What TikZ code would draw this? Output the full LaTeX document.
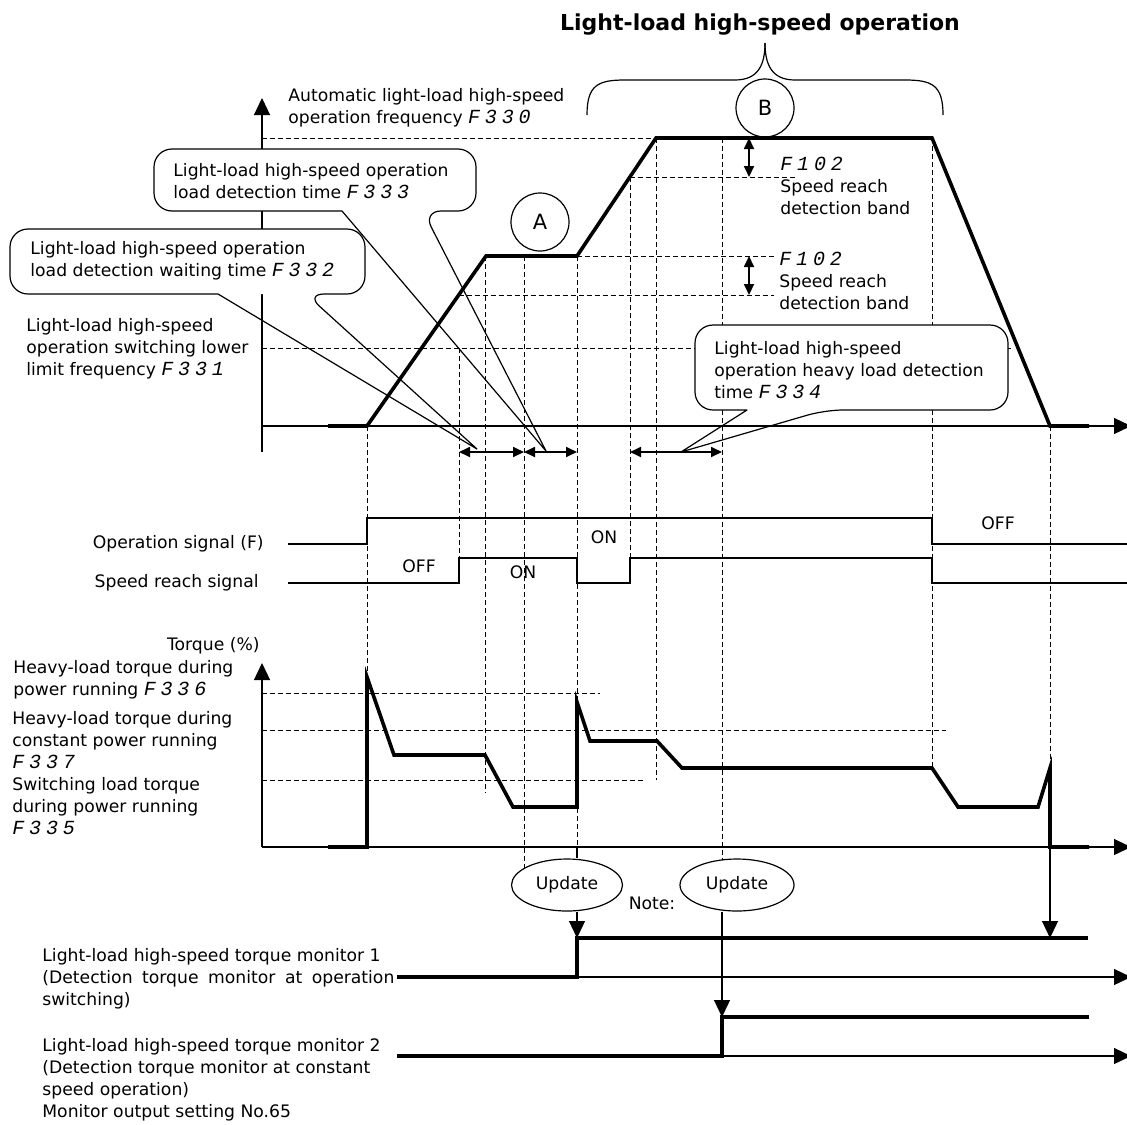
\documentclass[tikz,border=0pt]{standalone}
\usepackage{fontspec}
\setmainfont{DejaVu Sans}
\newfontfamily\lcdfont{Liberation Mono}[WordSpace=0.4]
\usepackage{tikz}
\usetikzlibrary{arrows.meta,shapes.geometric}

\newcommand{\lcd}[1]{{\lcdfont\itshape\fontsize{10}{11}\selectfont #1}}
% box x1 y1 x2 y2, tail base t1 t2, tail tip
\newcommand{\speechbox}[8]{%
    \fill[white, rounded corners=9pt] (#1,#2) rectangle (#3,#4);
    \draw[bubbleline] (#5,#4) [rounded corners=9pt] -- (#1,#4) -- (#1,#2) -- (#3,#2) -- (#3,#4) -- (#6,#4) [sharp corners] -- (#7,#8) -- cycle;}

\begin{document}
\begin{tikzpicture}[x=0.5pt, y=-0.5pt,
    every node/.style={inner sep=0pt, font=\fontsize{8.6}{11}\selectfont},
    guide/.style={line width=0.45pt, dash pattern=on 2.5pt off 1.5pt},
    axisline/.style={line width=0.6pt},
    axisarrow/.style={line width=0.6pt, -{Triangle[length=8.5pt, width=8pt]}},
    dimarrow/.style={line width=0.9pt, {Triangle[length=5.5pt, width=5pt]}-{Triangle[length=5.5pt, width=5pt]}},
    speedline/.style={line width=1.8pt},
    signal/.style={line width=1pt},
    monline/.style={line width=2.2pt},
    bubbleline/.style={line width=0.6pt, line join=round},
    tagcircle/.style={circle, draw, line width=0.6pt, minimum size=29pt, font=\fontsize{10.5}{12}\selectfont},
    updnode/.style={ellipse, draw, line width=0.6pt, minimum width=56pt, minimum height=26pt},
    textblock/.style={align=left, anchor=west}]
    \useasboundingbox (0,0) rectangle (1127,1124);
    % Guides, axes, bubbles, curves and labels:
    \draw[guide] (262,138) -- (656,138);
    \draw[guide] (630,177) -- (797,177);
    \draw[guide] (577,256) -- (774,256);
    \draw[guide] (459,295) -- (774,295);
    \draw[guide] (262,348) -- (1011,348);
    \draw[guide] (262,693) -- (600,693);
    \draw[guide] (262,730) -- (946,730);
    \draw[guide] (262,780) -- (644,780);
    \draw[guide] (367,426) -- (367,677);
    \draw[guide] (459,348) -- (459,558);
    \draw[guide] (485,256) -- (485,793);
    \draw[guide] (524,256) -- (524,868);
    \draw[guide] (577,256) -- (577,847);
    \draw[guide] (630,177) -- (630,558);
    \draw[guide] (656,138) -- (656,780);
    \draw[guide] (722,138) -- (722,860);
    \draw[guide] (932,138) -- (932,768);
    \draw[guide] (1050,426) -- (1050,768);
    \draw[axisarrow] (262,452) -- (262,98);
    \speechbox{10}{229}{365}{294}{218}{306}{477}{449}
    \speechbox{154}{149}{476}{211}{342}{423}{546}{451}
    \speechbox{695}{325}{1008}{410}{747}{825}{681}{452}
    \draw[axisarrow] (262,426) -- (1131,426);
    \draw[speedline] (328,426) -- (367,426) -- (486,256) -- (577,256) -- (656,138) -- (932,138) -- (1050,426) -- (1089,426);
    \node[tagcircle] (tagA) at (540,222) {A};
    \node[tagcircle] (tagB) at (765,108) {B};
    \draw[axisline] (587,115) .. controls (587,85) and (598,80) .. (625,80) -- (735,80) .. controls (758,80) and (765,65) .. (765,43);
    \draw[axisline] (765,43) .. controls (765,65) and (772,80) .. (795,80) -- (905,80) .. controls (932,80) and (943,85) .. (943,115);
    \draw[dimarrow] (459,452) -- (524,452);
    \draw[dimarrow] (524,452) -- (577,452);
    \draw[dimarrow] (630,452) -- (722,452);
    \draw[dimarrow] (749,138) -- (749,177);
    \draw[dimarrow] (749,256) -- (749,295);
    \draw[signal] (288,544) -- (367,544) -- (367,518) -- (932,518) -- (932,544) -- (1127,544);
    \draw[signal] (288,583) -- (459,583) -- (459,558) -- (577,558) -- (577,583) -- (630,583) -- (630,558) -- (932,558) -- (932,583) -- (1127,583);
    \draw[axisarrow] (262,847) -- (262,663);
    \draw[axisarrow] (262,847) -- (1131,847);
    \draw[speedline] (328,847) -- (367,847) -- (367,677) -- (394,755) -- (485,755) -- (513,807) -- (577,807) -- (577,702) -- (590,741) -- (657,741) -- (682,768) -- (932,768) -- (958,807) -- (1038,807) -- (1050,768) -- (1050,847) -- (1089,847);
    \node[updnode, minimum width=55.5pt] (upd1) at (567,885) {Update};
    \node[updnode, minimum width=57pt] (upd2) at (737,885) {Update};
    \coordinate (mon1) at (577,938);
    \coordinate (mon2) at (722,1017);
    \coordinate (stopmon) at (1050,938);
    \draw[axisline] (577,847) -- (upd1.north -| mon1);
    \draw[axisarrow] (upd1.south -| mon1) -- (mon1);
    \draw[axisarrow] (upd2.south -| mon2) -- (mon2);
    \draw[axisarrow] (1050,847) -- (stopmon);
    \draw[axisarrow] (397,977) -- (1131,977);
    \draw[monline] (397,977) -- (577,977) -- (mon1) -- (1088,938);
    \draw[axisarrow] (397,1056) -- (1131,1056);
    \draw[monline] (397,1056) -- (722,1056) -- (mon2) -- (1089,1017);
    \node[font=\fontsize{11}{13}\selectfont\bfseries] (title) at (760,25) {Light-load high-speed operation};
    \node[textblock] (lblfreq) at (288,107.5) {Automatic light-load high-speed\\operation frequency \lcd{F 3 3 0}};
    \node[textblock] (lbl333) at (173,181) {Light-load high-speed operation\\load detection time \lcd{F 3 3 3}};
    \node[textblock] (lbl332) at (30,261) {Light-load high-speed operation\\load detection waiting time \lcd{F 3 3 2}};
    \node[textblock] (lbl331) at (26,348.5) {Light-load high-speed\\operation switching lower\\limit frequency \lcd{F 3 3 1}};
    \node[textblock] (band1) at (780,186) {\lcd{F 1 0 2}\\Speed reach\\detection band};
    \node[textblock] (band2) at (779,280.5) {\lcd{F 1 0 2}\\Speed reach\\detection band};
    \node[textblock] (lbl334) at (714,370) {Light-load high-speed\\operation heavy load detection\\time \lcd{F 3 3 4}};
    \node[anchor=east] (lblrun) at (264,544) {Operation signal (F)};
    \node[anchor=east] (lblreach) at (259,583) {Speed reach signal};
    \node (off1) at (419,566) {OFF};
    \node (on1) at (523,572) {ON};
    \node (on2) at (604,537) {ON};
    \node (off2) at (998,523) {OFF};
    \node[anchor=east] (lbltorque) at (260,646) {Torque (\%)};
    \node[textblock] (lbl336) at (13,680) {Heavy-load torque during\\power running \lcd{F 3 3 6}};
    \node[textblock] (lbl337) at (12,740) {Heavy-load torque during\\constant power running\\\lcd{F 3 3 7}};
    \node[textblock] (lbl335) at (12,806) {Switching load torque\\during power running\\\lcd{F 3 3 5}};
    \node (note) at (652,903) {Note:};
    \node[textblock] (lblmon1) at (42,978.5) {Light-load high-speed torque monitor 1\\\makebox[176pt][s]{(Detection torque monitor at operation}\\switching)};
    \node[textblock] (lblmon2) at (42,1080) {Light-load high-speed torque monitor 2\\(Detection torque monitor at constant\\speed operation)\\Monitor output setting No.65};
\end{tikzpicture}
\end{document}
